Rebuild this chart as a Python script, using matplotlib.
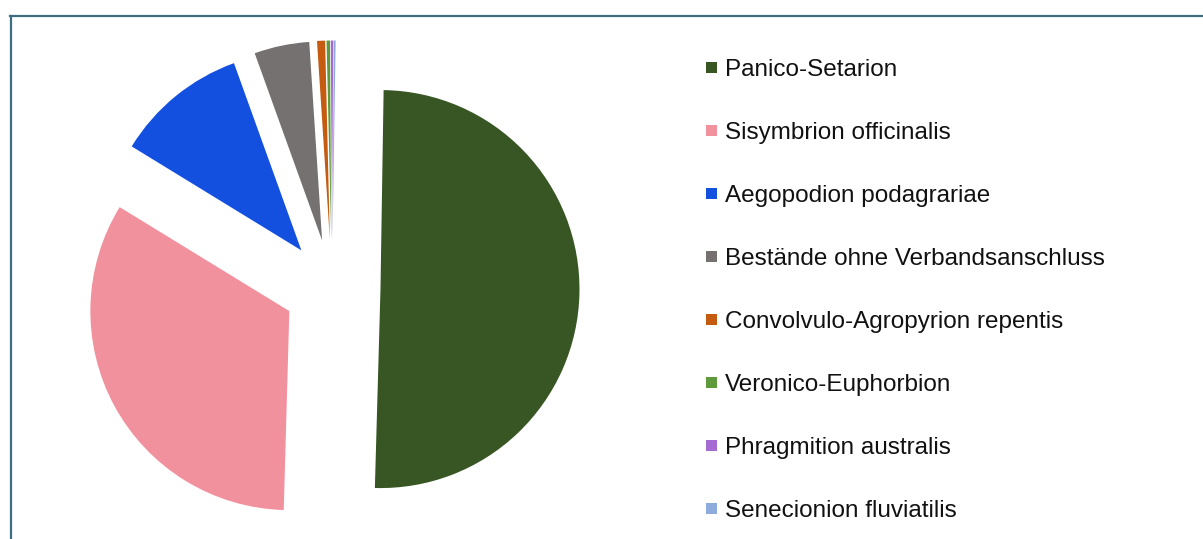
import matplotlib
matplotlib.use("Agg")
import matplotlib.pyplot as plt
from matplotlib.lines import Line2D
from matplotlib.patches import Rectangle

categories = [
    "Panico-Setarion",
    "Sisymbrion officinalis",
    "Aegopodion podagrariae",
    "Bestände ohne Verbandsanschluss",
    "Convolvulo-Agropyrion repentis",
    "Veronico-Euphorbion",
    "Phragmition australis",
    "Senecionion fluviatilis",
]
values = [50.2, 33.3, 10.75, 4.47, 0.65, 0.28, 0.2, 0.15]
colors = ["#375623", "#F2919E", "#1450E0", "#767171",
          "#C55A11", "#5E9A3B", "#A66BD3", "#8FAADC"]

W, H = 1203, 539
fig = plt.figure(figsize=(W / 100, H / 100), dpi=100)
ax = fig.add_axes([0, 0, 1, 1])

R = 199
ax.pie(values, colors=colors, startangle=89.1, counterclock=False,
       center=(332, H - 288), radius=R,
       explode=[48.5] * len(values),
       wedgeprops=dict(linewidth=0))
ax.set_xlim(0, W)
ax.set_ylim(0, H)
ax.set_aspect("auto")
ax.axis("off")

# frame (top and left edges visible)
fc = "#3F6E80"
fig.add_artist(Line2D([10 / W, 1.0], [1 - 16 / H, 1 - 16 / H], color=fc, lw=1.6,
                      transform=fig.transFigure))
fig.add_artist(Line2D([10.8 / W, 10.8 / W], [0, 1 - 16 / H], color=fc, lw=1.6,
                      transform=fig.transFigure))

# legend
row0, step = 67.5, 63.0
sq = 11.5
for i, (lab, col) in enumerate(zip(categories, colors)):
    yc = row0 + i * step
    ax.add_patch(Rectangle((705.5, H - yc - sq / 2), sq, sq, facecolor=col,
                           edgecolor="none"))
    ax.text(725, H - yc - 8.3, lab, fontsize=17.5, family="Liberation Sans",
            color="#111111", va="baseline", ha="left")

fig.savefig("out.png", dpi=100)
